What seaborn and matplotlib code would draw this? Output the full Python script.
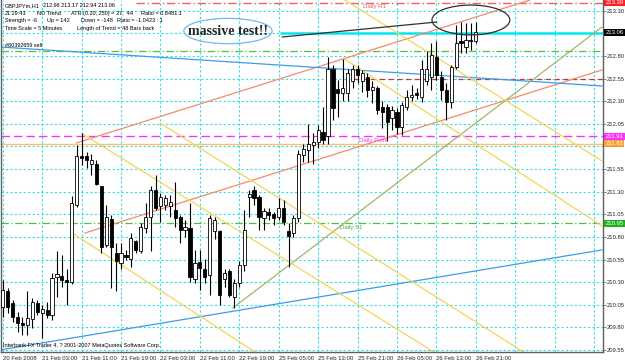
import numpy as np
import pandas as pd
import matplotlib
matplotlib.use('Agg')
import matplotlib.pyplot as plt
from matplotlib.patches import Ellipse
import matplotlib.transforms as mtransforms
import seaborn as sns

# GBPJPYm H1 candles, bar 0 = 20 Feb 2008 19:00
opens = [210.02, 210.20, 210.07, 209.92, 209.85, 209.83, 209.89, 210.07, 209.96, 209.99,
         209.94, 210.36, 210.37, 210.32, 210.30, 211.15, 211.69, 211.69, 211.61, 211.61,
         211.36, 210.71, 211.00, 210.62, 210.51, 210.60, 210.56, 210.75, 210.64, 210.90,
         211.02, 211.32, 211.14, 211.15, 211.14, 211.10, 211.02, 210.88, 210.90, 210.34,
         210.52, 210.45, 210.38, 210.86, 210.86, 210.34, 210.42, 210.14, 210.29, 210.49,
         211.24, 211.32, 211.24, 211.01, 211.08, 211.05, 211.02, 211.12, 210.86, 210.84,
         211.01, 211.71, 211.76, 211.82, 211.85, 211.96, 211.91, 212.66, 212.43, 212.39,
         212.39, 212.52, 212.65, 212.52, 212.57, 212.42, 212.44, 212.24, 212.24, 212.11,
         212.18, 212.02, 212.24, 212.35, 212.39, 212.35, 212.52, 212.57, 212.79, 212.57,
         212.42, 212.29, 212.68, 212.96, 212.90, 212.98, 212.96]
highs = [210.32, 210.23, 210.10, 209.97, 209.92, 210.20, 210.12, 210.10, 210.05, 210.08,
         210.40, 210.64, 210.60, 210.45, 211.25, 211.82, 211.95, 211.74, 211.72, 211.65,
         211.36, 211.15, 211.04, 210.73, 210.73, 210.65, 210.84, 210.77, 210.95, 211.17,
         211.36, 211.48, 211.28, 211.26, 211.26, 211.41, 211.04, 210.99, 211.17, 210.66,
         210.66, 210.56, 211.04, 211.02, 210.88, 210.45, 210.45, 210.34, 210.53, 211.10,
         211.32, 211.36, 211.26, 211.12, 211.12, 211.08, 211.23, 211.21, 210.95, 211.04,
         211.76, 211.83, 212.05, 211.95, 212.04, 212.24, 212.79, 212.70, 212.53, 212.77,
         212.66, 212.70, 212.70, 212.64, 212.61, 212.52, 212.47, 212.30, 212.27, 212.25,
         212.22, 212.29, 212.42, 212.48, 212.45, 212.76, 212.85, 212.94, 212.96, 212.63,
         212.50, 212.70, 213.14, 213.18, 213.16, 213.16, 213.17]
lows = [209.92, 209.96, 209.86, 209.75, 209.72, 209.72, 209.79, 209.94, 209.68, 209.90,
        209.88, 210.14, 210.25, 210.05, 210.28, 211.13, 211.60, 211.56, 211.48, 211.37,
        210.62, 210.69, 210.24, 210.20, 210.44, 210.55, 210.47, 210.62, 210.62, 210.84,
        210.64, 211.10, 210.97, 211.10, 211.02, 210.91, 210.73, 210.80, 210.30, 210.29,
        210.21, 210.29, 210.16, 210.78, 210.05, 210.25, 210.14, 210.01, 210.25, 210.42,
        211.02, 211.15, 210.88, 210.88, 210.99, 210.93, 210.99, 210.93, 210.47, 210.80,
        210.97, 211.63, 211.63, 211.61, 211.78, 211.83, 211.83, 212.09, 212.13, 212.30,
        212.30, 212.45, 212.50, 212.40, 212.35, 212.28, 212.16, 212.00, 211.86, 211.98,
        211.94, 211.93, 212.20, 212.30, 212.32, 212.29, 212.48, 212.42, 212.53, 212.31,
        212.09, 212.22, 212.66, 212.83, 212.83, 212.87, 212.94]
closes = [210.21, 210.03, 209.92, 209.85, 209.83, 209.90, 210.08, 209.97, 210.00, 209.94,
          210.35, 210.39, 210.32, 210.30, 211.18, 211.69, 211.67, 211.65, 211.65, 211.39,
          210.69, 211.02, 210.69, 210.53, 210.62, 210.58, 210.79, 210.66, 210.91, 211.02,
          211.32, 211.12, 211.24, 211.23, 211.19, 211.01, 210.88, 210.91, 210.36, 210.51,
          210.46, 210.36, 211.01, 210.99, 210.16, 210.40, 210.16, 210.29, 210.49, 210.88,
          211.27, 211.23, 211.02, 211.09, 211.04, 211.01, 211.12, 210.97, 210.81, 211.01,
          211.72, 211.77, 211.83, 211.85, 211.98, 211.87, 212.66, 212.22, 212.39, 212.45,
          212.61, 212.66, 212.59, 212.61, 212.42, 212.46, 212.20, 212.18, 212.07, 212.20,
          212.02, 212.26, 212.35, 212.37, 212.37, 212.66, 212.66, 212.81, 212.59, 212.42,
          212.29, 212.68, 212.94, 212.94, 212.98, 212.97, 213.06]

date_labels = ['20 Feb 2008', '21 Feb 03:00', '21 Feb 11:00', '21 Feb 19:00', '22 Feb 03:00',
               '22 Feb 11:00', '22 Feb 19:00', '25 Feb 05:00', '25 Feb 13:00', '25 Feb 21:00',
               '26 Feb 05:00', '26 Feb 13:00', '26 Feb 21:00']
price_ticks = [209.55, 209.80, 210.05, 210.30, 210.55, 210.80, 211.05, 211.30, 211.55,
               211.80, 212.05, 212.30, 212.55, 212.80, 213.05, 213.30]
hidden_ticks = [211.80, 213.05]   # covered by the price boxes

# trend lines: (bar0, price0, bar1, price1, colour)
trend_lines = [
    (14.9, 211.838, 107.0, 213.418, '#f58a6a'),   # channel top
    (16.7, 210.843, 121.6, 212.645, '#f58a6a'),   # channel bottom
    (-0.6, 212.899, 121.6, 212.468, '#3f9be8'),
    (-0.6, 209.550, 121.6, 210.656, '#3f9be8'),
    (46.7, 210.015, 121.6, 213.120, '#a4b468'),
    (15.9, 211.948, 87.5, 209.528, '#f2d658'),
    (14.1, 210.843, 51.2, 209.528, '#f2d658'),
    (31.9, 212.059, 105.7, 209.528, '#f2d658'),
    (69.0, 212.777, 121.6, 210.921, '#f2d658'),
    (69.4, 213.418, 121.6, 211.639, '#f2d658'),
    (56.7, 213.009, 88.1, 213.175, '#303030'),
]

daily_r1 = 213.39
sell_price = 212.85
stop_level = 212.55
daily_pivot = 211.91
prev_close = 211.83
daily_s1 = 210.95
cyan_level = 213.05
last_price = closes[-1]

sns.set_theme(style='white')
plt.rcParams['font.family'] = ['Liberation Sans', 'DejaVu Sans']
small = 4.3

fig = plt.figure(figsize=(6.25, 3.63), dpi=100)
ax = fig.add_axes([1 / 625, 11 / 363, 602 / 625, 352 / 363])
ax.set_facecolor('white')

df = pd.DataFrame({'o': opens, 'h': highs, 'l': lows, 'c': closes})
df['bar'] = np.arange(len(df))
up = df['c'] >= df['o']

ax.set_xlim(-0.35, 121.8)
ax.set_ylim(209.528, 213.418)

# grid
xt = np.arange(0, 122, 8)
ax.set_xticks(xt)
ax.set_xticklabels(date_labels + [''] * (len(xt) - len(date_labels)), ha='left', fontsize=small)
ax.set_yticks(price_ticks)
ax.set_yticklabels(['' if p in hidden_ticks else '%.2f' % p for p in price_ticks], fontsize=4.2)
ax.yaxis.tick_right()
ax.tick_params(axis='y', length=2, width=0.6, color='#707070', pad=0.8)
ax.tick_params(axis='x', length=2, width=0.6, color='#707070', pad=1.0)
ax.grid(True, color='#30e0e8', linestyle=(0, (2, 2)), linewidth=0.8)

ax.spines['top'].set_visible(False)
for s in ['left', 'right', 'bottom']:
    ax.spines[s].set_color('#606060')
    ax.spines[s].set_linewidth(1.0)

# horizontal levels
ax.hlines(daily_r1, 27, 121.8, color='#f06060', ls=(0, (6, 2, 1, 2)), lw=1.0)
ax.axhline(sell_price, color='#50c040', ls=(0, (6, 2, 1, 2)), lw=0.9)
ax.axhline(daily_pivot, color='#ff30ff', ls=(0, (6, 3)), lw=1.0)
ax.axhline(prev_close, color='#f8c070', ls='-', lw=1.0)
ax.axhline(daily_s1, color='#50c040', ls=(0, (6, 2, 1, 2)), lw=0.9)
ax.hlines(stop_level, 71, 121.8, color='#d03030', ls=(0, (4, 3)), lw=0.9)
ax.hlines(cyan_level, 56.3, 121.8, color='#00e8f0', lw=1.8)

# trend lines
for b0, p0, b1, p1, col in trend_lines:
    seg = pd.DataFrame({'bar': [b0, b1], 'price': [p0, p1]})
    sns.lineplot(data=seg, x='bar', y='price', color=col, lw=0.9, ax=ax)

# candles
ax.vlines(df['bar'], df['l'], df['h'], color='black', lw=0.8, zorder=4)
body = (df['c'] - df['o']).abs().clip(lower=0.008)
ax.bar(df['bar'], body, bottom=np.minimum(df['o'], df['c']), width=0.64,
       color=np.where(up, 'white', 'black'), edgecolor='black', linewidth=0.6, zorder=5)

ax.set_xlabel('')
ax.set_ylabel('')

# ellipses and the note
ax.add_patch(Ellipse((95.0, 213.197), 15.8, 0.33, fill=False, ec='#303030', lw=0.9, zorder=6))
ax.add_patch(Ellipse((45.7, 213.075), 17.9, 0.28, fill=False, ec='#70b8f0', lw=0.9, zorder=6))
ax.text(45.7, 213.075, 'massive test!!', ha='center', va='center', fontsize=10,
        fontweight='bold', family='Liberation Serif', zorder=7)

# level labels
ax.text(73.2, 213.341, 'Daily R1', color='#f06060', fontsize=small, va='center', zorder=7)
ax.text(72.2, 211.870, 'Daily Point', color='#ff30ff', fontsize=small, va='center', zorder=7)
ax.text(68.5, 210.905, 'Daily S1', color='#40b030', fontsize=small, va='center', zorder=7)

# price boxes on right scale
tr = mtransforms.blended_transform_factory(ax.transAxes, ax.transData)
boxes = [(daily_r1, '#ff2020', 'white'), (last_price, 'black', 'white'),
         (daily_pivot, '#ff30ff', 'white'), (prev_close, '#f8a030', 'white'),
         (daily_s1, '#20b020', 'white')]
for val, fc, tc in boxes:
    ax.text(1.004, val, '%.2f' % val, transform=tr, fontsize=4.2, color=tc, va='center',
            ha='left', clip_on=False, zorder=8,
            bbox=dict(boxstyle='square,pad=0.22', fc=fc, ec='none'))

# info text, placed at pixel positions
info = [(5, 5.7, 'GBPJPYm,H1'), (43, 5.7, '212.96 213.17 212.94 213.06'),
        (5, 13.3, '21:29:43'), (37, 13.3, 'NO Trend'), (71, 13.3, 'ATR (0.20, 250) = 37,  44'),
        (141, 13.3, 'Ratio = 0.8481:1'),
        (5, 20.7, 'Strength = -6'), (47, 20.7, 'Up = 142'), (81, 20.7, 'Down = -148'),
        (117, 20.7, 'Ratio = -1.0423 : 1'),
        (5, 28.2, 'Time Scale = 5 Minutes'), (77, 28.2, 'Length of Trend = 48 Bars back'),
        (5, 45.5, '#80392659 sell'),
        (3, 346, 'Interbank FX Trader 4, ? 2001-2007 MetaQuotes Software Corp.')]
for px, py, s in info:
    fig.text(px / 625, 1 - py / 363, s, fontsize=4.0, va='center', color='black')

fig.savefig('out.png', dpi=100)
